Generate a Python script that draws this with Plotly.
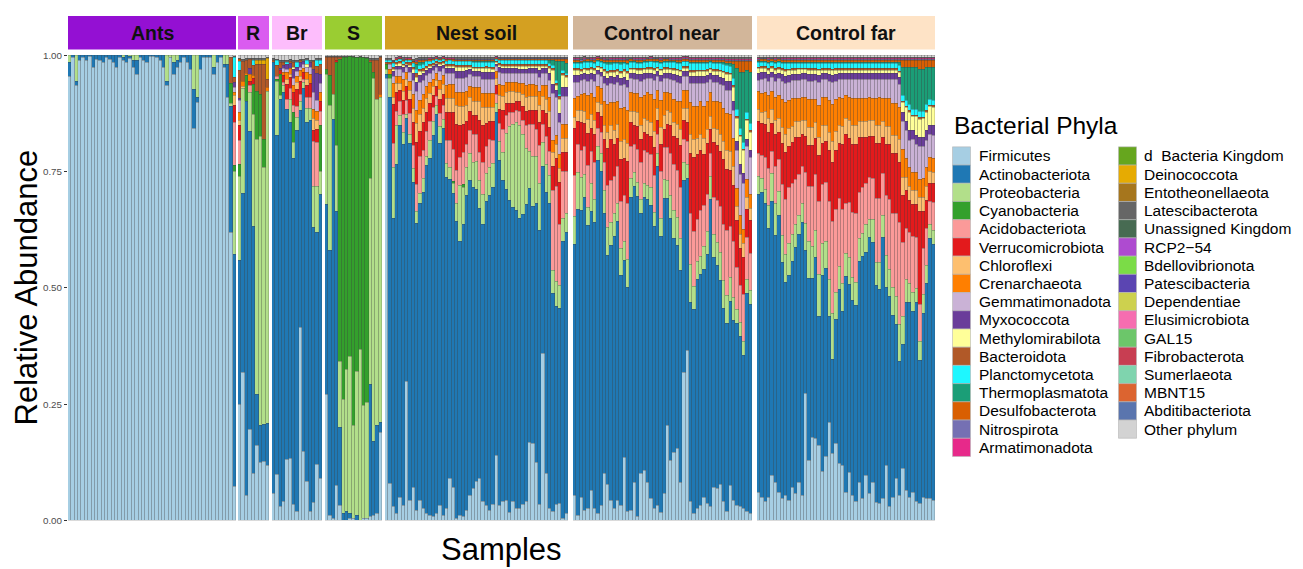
import plotly.graph_objects as go

W, H = 1303, 569

# ---- phyla (legend / stacking order, bottom to top) and their fill colours ----
PHYLA = [
    "Firmicutes", "Actinobacteriota", "Proteobacteria", "Cyanobacteria",
    "Acidobacteriota", "Verrucomicrobiota", "Chloroflexi", "Crenarchaeota",
    "Gemmatimonadota", "Myxococcota", "Methylomirabilota", "Bacteroidota",
    "Planctomycetota", "Thermoplasmatota", "Desulfobacterota", "Nitrospirota",
    "Armatimonadota",
    "d\u00a0\u00a0Bacteria Kingdom", "Deinococcota", "Entotheonellaeota",
    "Latescibacterota", "Unassigned Kingdom", "RCP2\u221254", "Bdellovibrionota",
    "Patescibacteria", "Dependentiae", "Elusimicrobiota", "GAL15",
    "Fibrobacterota", "Sumerlaeota", "MBNT15", "Abditibacteriota", "Other phylum",
]
COLORS = [
    "#A6CEE3", "#1F78B4", "#B2DF8A", "#33A02C", "#FB9A99", "#E31A1C",
    "#FDBF6F", "#FF7F00", "#CAB2D6", "#6A3D9A", "#FFFF99", "#B15928",
    "#1EF7FF", "#1B9E77", "#D95F02", "#7570B3", "#E7298A",
    "#66A61E", "#E6AB02", "#A6761D", "#666666", "#476B52", "#AE4BD0",
    "#7BDC47", "#5B45B2", "#CDD14E", "#F66DB0", "#6CC66A", "#C83E52",
    "#7FD4AE", "#DC6430", "#5A75AE", "#D3D3D3",
]

# columns of the sample tables below (percent); missing trailing columns are 0
TABLE = ["Firmicutes", "Actinobacteriota", "Proteobacteria", "Cyanobacteria",
         "Acidobacteriota", "Verrucomicrobiota", "Chloroflexi", "Crenarchaeota",
         "Gemmatimonadota", "Myxococcota", "Methylomirabilota", "Bacteroidota",
         "Planctomycetota", "Thermoplasmatota", "Desulfobacterota", "Nitrospirota",
         "Armatimonadota", "Deinococcota", "Latescibacterota", "Other phylum"]

GROUPS = ["Ants", "R", "Br", "S", "Nest soil", "Control near", "Control far"]
GROUP_COLORS = ["#9410D3", "#DA5CF0", "#FDBDFC", "#9ACD32", "#D4A021", "#D2B69A", "#FEE3C6"]

ants = [
    [95, 3, 1.5], [99.2, .5], [93.2, 1, 5.5], [98.7, 1], [99.2, .5], [98.7, 1],
    [99.5, .2], [97.2, 2.5], [98.9, .8], [98.7, 1], [98.2, 1.5], [99.2, .5],
    [98.9, .8], [98.2, 1.5], [97.2, 2.5], [99.2, .5], [98.7, .5, .5], [98.2, 1.5],
    [99, .5, .2], [97.2, 1.5, 1], [95.7, 3, 1], [99.2, .5], [98.7, 1], [98.2, 1.5],
    [99.4, .3], [99.4, .3], [99.2, .5], [98.7, 1], [97.2, 2.5], [93.2, 1, 5.5],
    [99.2, 0, .5], [95.7, 2.5, 1.5], [97.2, 1.5, 1], [98.2, 1.5], [99.2, .5],
    [98.2, 1.5], [96.7, 3], [84.1, 8.2, 7.4], [89.7, 1, 9], [96.7, 3], [99.2, .5],
    [99.2, .5], [99.2, .5], [95.7, 1.5, 2.5], [98.2, 1.5], [99.2, .5], [97.2, .5, 2],
    [90.7, 7, 2],
    [62, 27, .7, 4.3, 0, 0, 0, 0, 0, 0, 0, 5.5, 0, 0, 0, 0, 0, 0, 0, .5],
    [7.2, 50, 17.8, 1.4, 9.2, 3.6, 2.1, .7, 1.1, 1.1, 0, 1.1, 4.3, 0, 0, 0, 0, 0, .1, .3],
]

r_group = [
    [25, 31, 18, 2.5, 5.3, 3.2, 1, 1.8, 2.5, .5, 0, 6, 1.8, 0, .5, 0, 0, 0, .3, .6],
    [31.7, 38.7, 22.4, 0, 0, 0, .5, 1, 0, 0, 0, 4.5, 0, 0, 0, 0, 0, 0, .4, .8],
    [5.4, 84.6, 0, 5.7, 0, 0, 0, .5, 0, 0, 0, 2.8, 0, 0, 0, 0, 0, 0, .3, .7],
    [19.6, 64, 8.5, 0, 1.4, 1, 0, 1.4, 0, 1.4, 0, 1.8, 0, 0, 0, 0, 0, 0, .3, .6],
    [10, 53, 24, 6.4, 0, 1.4, 0, .7, 0, 0, 0, 2.1, 1.1, 0, 0, 0, 0, 0, .3, .7],
    [16, 11, 55, 10.3, 0, 0, 0, 0, 0, 0, 0, 5.7, 0, 0, 0, 0, 0, 1, .3, .7],
    [12.5, 8, 62, 9, 0, 0, 0, 0, 0, 0, 0, 6.5, 0, 0, 0, 0, 0, 1, .3, .7],
    [12.5, 8, 55, 6, 0, 0, 0, 0, 0, 0, 0, 16, 0, 0, 0, 0, 0, 1, .3, .7],
    [11.8, 9.2, 72, 0, 0, 0, 0, .7, 0, 0, 0, 1.8, 0, 0, 0, 0, 0, 4.6, .2, .4],
]

br_group = [
    [5.8, 92.7, 0, 0, 0, 0, 0, 0, 0, 0, 0, .5, 0, 0, 0, 0, 0, 0, .3, .7],
    [9.9, 72.8, 11.7, .5, .5, 0, 0, 0, 0, 0, 0, 2.5, 1, 0, 0, 0, 0, 0, .3, .8],
    [3, 87.6, .8, 4.6, 0, .7, 0, 0, 0, .5, 0, 1.3, 0, 0, 0, 0, 0, 0, .5, 1],
    [4, 88, 1.5, 0, .7, 1.5, 0, .7, .7, .7, 0, .7, 0, 0, 0, 0, 0, 0, .5, 1],
    [13, 75.3, 0, 0, 2.2, 3.3, 1, 1.5, .7, 1, 0, 0, .5, 0, 0, 0, 0, 0, .5, 1],
    [13.4, 72.2, 5, 0, 2.2, 2.5, .7, 1.3, 0, 1, 0, .5, 0, 0, 0, 0, 0, 0, .4, .8],
    [3.4, 74.3, 3.6, 6.4, 1.4, 2.8, 0, 1.5, 1.5, 2, .5, 1, 0, 0, 0, 0, 0, 0, .5, 1],
    [1.8, 82, 2.8, 0, 2.5, 3.6, 1.4, 1.4, 1, 1, 0, 0, 1, 0, 0, 0, 0, 0, .5, 1],
    [41.5, 46.6, 2, 0, 1.5, 2.8, 1, 1.3, .7, 1, 0, .5, 0, 0, 0, 0, 0, 0, .3, .8],
    [14.8, 78, 1.4, 0, .7, 1.4, 0, 1, .7, .7, 0, 0, 0, 0, 0, 0, 0, 0, .4, .9],
    [8.3, 77.5, 3, 0, 2.5, 2.5, 1.4, 1.4, 1, 0, .7, 0, 1, 0, 0, 0, 0, 0, .3, .7],
    [1.8, 83.4, 2.5, 0, 2.5, 2.9, 0, 2, 1.5, 1, 0, 0, 0, 0, 0, 0, 0, 0, .5, 1],
    [3.9, 59, 8.9, 0, 9.6, 2.5, 2.5, 2, 3.6, 5, 0, 1.6, 0, 0, 0, 0, 0, 0, .4, 1],
    [12.1, 50.5, 10, 0, 9.6, 2.8, 1.8, 2, 2.5, 5.7, 0, 1.5, 1.5, 0, 0, 0, 0, 0, .3, .7],
    [9, 61, 5, 10, 3, 2, 0, 2, 2, 2, 0, 2, 1, 0, 0, 0, 0, 0, .3, .7],
]

s_group = [
    [27, 41, 28, 1, 0, 0, 0, 0, 0, 0, 0, 2.5, 0, 0, 0, 0, 0, 0, .2, .3],
    [1, 57, 31.3, 6.4, 0, 0, 0, 0, 0, 0, 0, 3.9, 0, 0, 0, 0, 0, 0, .1, .3],
    [.5, 85.8, 5.3, 0, 0, 0, 0, 0, 0, 0, 0, 8, 0, 0, 0, 0, 0, 0, .1, .3],
    [7.4, 59, 14.2, 17.8, 0, .5, 0, 0, 0, 0, 0, .7, 0, 0, 0, 0, 0, 0, .1, .3],
    [3.2, 16.7, 14.2, 65, 0, 0, 0, 0, 0, 0, 0, .5, 0, 0, 0, 0, 0, 0, .1, .3],
    [0, 1.5, 24.5, 73.6, 0, 0, 0, 0, 0, 0, 0, 0, 0, 0, 0, 0, 0, 0, .1, .3],
    [0, 1.8, 30.6, 67.2, 0, 0, 0, 0, 0, 0, 0, 0, 0, 0, 0, 0, 0, 0, .1, .3],
    [.3, 1.1, 33.8, 64.5, 0, 0, 0, 0, 0, 0, 0, 0, 0, 0, 0, 0, 0, 0, .1, .2],
    [.3, 0, 20, 79.3, 0, 0, 0, 0, 0, 0, 0, 0, 0, 0, 0, 0, 0, 0, .1, .3],
    [0, 1.1, 30.9, 67.5, 0, 0, 0, 0, 0, 0, 0, 0, 0, 0, 0, 0, 0, 0, .1, .4],
    [0, 0, 36.7, 62.9, 0, 0, 0, 0, 0, 0, 0, 0, 0, 0, 0, 0, 0, 0, .1, .3],
    [.4, 0, 24.2, 74.9, 0, 0, 0, 0, 0, 0, 0, 0, 0, 0, 0, 0, 0, 0, .1, .4],
    [.4, 0, 25, 74, 0, 0, 0, 0, 0, 0, 0, 0, 0, 0, 0, 0, 0, 0, .2, .4],
    [.8, 28.4, 44.4, 24.9, 0, 0, 0, 0, 0, 0, 0, .5, 0, 0, 0, 0, 0, 0, .3, .7],
    [1.1, 15.3, 75.7, 1.4, 0, 0, 0, 0, 0, 0, 0, 2.5, 0, 0, 0, 0, 0, 0, .3, .7],
    [1.5, 19, 70, 0, 0, 0, 0, 0, 0, 0, 0, 8.5, 0, 0, 0, 0, 0, 0, .3, .7],
    [19, 2, 70, 0, 0, 0, 0, .5, 0, 0, 0, 8, 0, 0, 0, 0, 0, 0, .2, .3],
]

nest_soil = [
    [95, 1, 1, 1, 0, 0, 0, 0, 0, 0, 0, .5, .5, 0, 0, 0, 0, 0, .3, .7],
    [8, 83, 4, 1, 0, 0, 0, 1, 1, 0, 0, .5, .5, 0, 0, 0, 0, 0, .3, .7],
    [3, 62, 11, 0, 5, 8.5, 1.5, 3, 1.5, 1, .5, .5, .7, 0, .3, .1, .1, 0, .3, 1],
    [1.5, 75, 8.5, 0, 3, 4, 2, 1.5, 1.5, .7, .3, .5, .5, 0, .2, 0, .1, 0, .2, .5],
    [5, 80, 2, 0, 3, 2.5, 1.5, 1.5, 1.5, .7, .5, .4, .5, 0, .2, .1, .1, 0, .2, .3],
    [3.3, 78, 2.5, 0, 4, 3, 2, 2.5, 1.5, 1, .5, .3, .6, 0, .3, .1, .1, 0, .3, .5],
    [30, 57, 1, 0, 3, 3, 1.5, 1.5, 1, .5, .3, .3, .5, 0, .2, .1, .1, 0, .2, .5],
    [4.3, 77, 2, 0, 4.5, 3, 2, 2, 2, 1, .5, .5, .6, 0, .2, 0, .1, 0, .2, .5],
    [7, 66, 3, 0, 5, 5, 3, 3, 3, 1.5, 1, .5, .8, 0, .3, .1, .1, 0, .3, .9],
    [2.2, 62, 2.5, 0, 6, 9, 4, 3, 4, 2, 1, .8, 1, 1, .5, .2, .2, 0, .4, .7],
    [4.3, 64, 2, 0, 8, 5.5, 3.5, 3, 4, 1.5, .8, .5, .9, .5, .5, .2, .1, 0, .3, .5],
    [2.6, 68, 3, 0, 6, 6, 3, 3, 3, 1.5, .5, .5, .9, .5, .4, .2, .1, 0, .3, .5],
    [1.5, 75, 2, 0, 5.5, 4, 3, 2.5, 2.5, 1, .5, .5, .9, 0, .3, .2, .1, 0, .3, .5],
    [1.1, 77, 4, 0, 4, 4, 2, 2.5, 2, 1, .5, .4, .7, 0, .3, .1, .1, 0, .2, .5],
    [.8, 83, 3, 0, 3, 2.5, 2, 1.5, 2, .8, .4, .4, .7, 0, .2, .1, .1, 0, .2, .4],
    [1.5, 86, 2, 0, 2, 2, 1.5, 1.5, 1.2, .6, .3, .3, .6, 0, .2, 0, .1, 0, .2, .3],
    [3.3, 78, 3.5, 0, 3, 3, 2, 2, 2, 1, .5, .3, .6, 0, .2, .1, .1, 0, .2, .4],
    [1.1, 84, 2, 0, 3, 2.5, 2, 2, 1.5, .8, .4, .3, .6, 0, .2, 0, .1, 0, .2, .3],
    [2.6, 71.5, 3, 0, 5, 6, 3, 3, 2.5, 1, .5, .4, .8, 0, .3, .1, .1, 0, .3, .4],
    [9.2, 65, 2.5, 0, 6, 6, 3, 3, 2.5, 1, .5, .4, .8, 0, .3, .1, .1, 0, .3, .4],
    [7.1, 64, 2, .5, 7, 8, 3, 3, 2.5, 1, .5, .4, .8, 0, .3, .1, .1, 0, .3, .4],
    [.4, 64, 4, 0, 7, 10, 4, 3, 3, 1.5, .8, .5, .8, 0, .3, .1, .1, 0, .3, .5],
    [1.1, 58.5, 12, 0, 6, 7, 4, 3, 3, 1.5, .8, .5, .8, 0, .3, .1, .1, 0, .3, .5],
    [.8, 63, 8, .5, 7, 6, 4, 3, 3, 1.5, .8, .5, .8, 0, .3, .1, .1, 0, .3, .5],
    [2.2, 68, 6, 0, 5, 5, 3.5, 3, 3, 1.5, .8, .4, .8, 0, .3, .1, .1, 0, .3, .5],
    [5.3, 68, 6, 0, 5, 4, 3, 2.5, 2.5, 1, .6, .4, .8, 0, .3, .1, .1, 0, .3, .5],
    [6.8, 65, 5.5, 0, 6, 4, 3, 3, 2.5, 1, .6, .4, .9, .3, .3, .1, .1, 0, .3, .5],
    [8.5, 63, 6, 0, 6, 4, 3, 3, 2.5, 1, .6, .4, .9, .3, .3, .1, .1, 0, .3, .5],
    [9, 58.5, 6, 0, 6, 7, 4, 3, 2.5, 1, .6, .4, .9, .3, .3, .1, .1, 0, .3, .5],
    [4, 60, 6.5, 0, 7, 8, 4, 3, 3, 1.5, .8, .4, .9, .3, .3, .1, .1, 0, .3, .5],
    [3.3, 66, 6, 0, 6, 5, 3.5, 3, 3, 1.5, .8, .4, .9, .3, .3, .1, .1, 0, .3, .5],
    [2.2, 68, 6, 0, 6, 4, 3, 3, 3, 1.5, .8, .4, .9, .3, .3, .1, .1, 0, .3, .5],
    [3.3, 68, 5, 0, 5, 4, 3, 3, 3, 1.5, .8, .4, .9, .3, .3, .1, .1, 0, .3, .5],
    [14, 74, 2, 0, 2, 2, 1.5, 1.5, 1, .5, .3, .3, .5, 0, .2, 0, .1, 0, .2, .3],
    [3.3, 74.5, 4, 0, 4, 3, 3, 2.5, 2.5, 1, .5, .4, .7, 0, .3, .1, .1, 0, .2, .4],
    [4, 69, 6, 0, 5, 4, 3, 2.5, 2.5, 1, .6, .4, .8, 0, .3, .1, .1, 0, .2, .4],
    [4.3, 67, 12, 0, 4, 2.5, 2.5, 2, 2, 1, .6, .4, .8, 0, .3, .1, .1, 0, .2, .4],
    [1.8, 67.5, 16, 0, 3, 2, 2.5, 2, 2, 1, .6, .4, .8, 0, .3, .1, .1, 0, .2, .4],
    [4, 64, 18, 0, 2.5, 2, 2.5, 2, 2, 1, .6, .4, .8, 0, .3, .1, .1, 0, .2, .4],
    [2.6, 64, 19, 0, 2.5, 2, 2, 2, 2, 1, .6, .4, .8, 0, .3, .1, .1, 0, .2, .4],
    [2.6, 62, 20, 0, 3, 2, 2, 2, 2, 1, .6, .4, .8, 0, .3, .1, .1, 0, .2, .4],
    [3.3, 62, 17, 0, 3, 3, 2.5, 2.5, 2, 1, .6, .4, .8, 0, .3, .1, .1, 0, .2, .4],
    [4, 63.5, 12, 0, 5, 3, 3, 2.5, 2.5, 1, .6, .4, .8, 0, .3, .1, .1, 0, .2, .4],
    [17, 55, 8, 0, 6, 3, 3, 2.5, 2.5, 1, .6, .4, .8, 0, .3, .1, .1, 0, .2, .4],
    [16.6, 51.5, 11, 0, 7, 3, 3, 2.5, 2.5, 1, .6, .4, .8, 0, .3, .1, .1, 0, .2, .4],
    [12.4, 56, 10, 0, 6, 4, 3, 2.5, 2.5, 1, .6, .4, .8, 0, .3, .1, .1, 0, .2, .4],
    [3.3, 58, 10, 0, 8, 5, 3.5, 3, 3, 1.5, .8, .4, .8, 0, .3, .1, .1, 0, .2, .4],
    [36, 40.5, 5, 0, 4, 3, 3, 2.5, 2.5, 1, .6, .4, .8, 0, .3, .1, .1, 0, .2, .4],
    [10, 60.5, 6, 0, 6, 5, 3, 3, 2.5, 1, .6, .4, .8, 0, .3, .1, .1, 0, .2, .4],
    [2.6, 64.5, 6, 0, 5, 5, 3.5, 3, 3.5, 1.5, 1, .4, .8, .5, .3, .1, .1, 0, .2, .4],
    [1.8, 46.5, 5, 0, 17, 5, 3, 2.5, 10, 2, 3, .5, .6, 1, .3, .1, .1, 0, .2, .4],
    [3.3, 42, 5.5, 0, 20, 6, 3, 2, 8, 1.5, 1, .5, .6, 4, .5, .1, .1, 0, .2, .4],
    [3.6, 42, 5, 0, 13, 9, 3, 3, 7, 2, 3, .5, .6, 7, .5, .1, .1, 0, .2, .4],
    [.4, 59, 5, 0, 10, 4, 3, 3, 6, 2, 2.5, .5, .5, 2, .5, .1, .1, 0, .2, .4],
    [1.5, 60, 4, 0, 9, 4, 3, 3, 6, 2, 2, .5, .5, 2, 1, .1, .1, 0, .2, .4],
]

control_near = [
    [5.4, 54.0, 6, 0, 9, 10, 2.5, 4, 3.5, 1.5, 1, .5, 1, .3, .5, .2, .1, 0, .3, .4],
    [1.1, 66.1, 8, 0, 6, 5, 2.5, 3, 3, 1.5, 1, .4, 1.2, .2, .5, .2, .2, 0, .2, .4],
    [5.0, 61.8, 7, 0, 6, 6, 2.5, 3.5, 3, 1.2, .8, .4, 1.2, .2, .4, .3, .1, 0, .3, .5],
    [2.2, 67.2, 5, 0, 6, 5, 2.5, 4, 3, 1.2, .8, .3, 1.2, .2, .4, .2, .2, 0, .3, .3],
    [2.6, 60.8, 4, 0, 9, 7, 3, 5, 3, 1.5, 1, .4, 1.3, .2, .4, .2, .1, 0, .2, .4],
    [6.4, 60.4, 6, 0, 7, 5, 3, 4.5, 3, 1.3, .8, .4, 1.1, .2, .4, .1, .2, 0, .3, .4],
    [2.6, 61.8, 5, 0, 8, 6, 3, 5, 3.5, 1.5, .8, .4, 1.2, .2, .5, .2, .1, 0, .3, .4],
    [1.5, 76.0, 3, 0, 4, 3.5, 2, 3.5, 2.5, 1, .6, .3, 1, .2, .4, .1, .1, 0, .2, .3],
    [3.3, 71.8, 4, 0, 4.5, 3.5, 2.5, 3.5, 2.5, 1, .7, .3, 1.1, .2, .4, .2, .1, 0, .2, .4],
    [10.0, 56.1, 5, 0, 6, 5, 3, 5, 4, 1.5, 1, .4, 1.3, .2, .5, .2, .2, 0, .3, .4],
    [7.8, 49.0, 6, 0, 9, 8, 3.5, 6, 4, 1.5, 1.2, .4, 1.5, .3, .5, .2, .1, 0, .3, .5],
    [4.3, 55.1, 5, 0, 9, 9, 3, 5, 4, 1.5, 1, .4, 1.3, .3, .5, .2, .2, 0, .3, .4],
    [2.6, 58.6, 5, 0, 8, 7, 3, 6, 4, 1.5, 1, .4, 1.5, .3, .5, .2, .1, 0, .3, .4],
    [4.3, 60.1, 4, 0, 8, 6, 3, 5, 4, 1.5, 1, .4, 1.3, .2, .5, .2, .1, 0, .3, .4],
    [3.3, 49.4, 6, 0, 10, 9, 4, 7, 5, 1.5, 1.2, .4, 1.5, .3, .5, .2, .2, 0, .3, .4],
    [13.5, 42.6, 4, 0, 10, 8, 4, 7, 5, 1.5, 1.2, .4, 1.3, .3, .5, .2, .1, 0, .3, .4],
    [1.8, 48.3, 6, 0, 12, 9, 4, 7, 5, 1.5, 1.5, .4, 1.5, .3, .6, .2, .1, 0, .3, .5],
    [2.2, 67.2, 4, 0, 7, 5, 2.5, 4, 3, 1.2, .8, .3, 1.2, .2, .4, .2, .1, 0, .2, .4],
    [8.2, 63.6, 3, 0, 6, 4, 3, 4, 3, 1.2, .8, .3, 1.2, .2, .4, .2, .1, 0, .3, .4],
    [.8, 68.9, 3, 0, 7, 5, 3, 4, 3, 1.2, .8, .3, 1.2, .2, .4, .2, .2, 0, .3, .4],
    [10.0, 56.1, 3, 0, 8, 5, 3, 6, 3.5, 1.3, 1, .3, 1.2, .2, .5, .2, .1, 0, .3, .4],
    [10.7, 59.0, 3, 0, 7, 4, 3, 5, 3.5, 1.2, .8, .3, 1.2, .2, .4, .2, .1, 0, .3, .4],
    [8.2, 61.1, 3, 0, 7, 4, 3, 6, 3, 1.2, .8, .3, 1.2, .2, .4, .2, .1, 0, .2, .4],
    [4.7, 63.3, 4, 0, 7, 4, 3, 6, 3.5, 1.2, .8, .3, 1.3, .2, .4, .2, .1, 0, .2, .3],
    [2.6, 61.1, 3, 0, 8, 6, 3.5, 7, 4, 1.3, 1, .3, 1.3, .2, .5, .2, .1, 0, .2, .4],
    [3.3, 72.8, 3, 0, 4, 3, 2.5, 4, 3, 1, .7, .3, 1, .2, .4, .2, .1, 0, .2, .4],
    [1.8, 59.3, 4, 0, 10, 6, 3.5, 6, 4, 1.3, 1, .3, 1.3, .2, .5, .2, .1, 0, .3, .4],
    [5.8, 64.0, 4, 0, 7, 4, 3, 5, 3, 1.2, .8, .3, 1.2, .2, .4, .2, .1, 0, .2, .4],
    [20.5, 49.0, 4, 0, 7, 5, 3, 4, 3, 1.2, .8, .3, 1.2, .2, .4, .2, .1, 0, .2, .4],
    [12.8, 52.2, 5, 0, 9, 6, 3, 4, 3, 1.3, .8, .3, 1.2, .2, .4, .2, .1, 0, .3, .4],
    [14.6, 46.2, 6, 0, 10, 6, 3, 5, 4, 1.5, .8, .3, 1.3, .2, .4, .2, .1, 0, .3, .4],
    [15.4, 43.7, 6, 0, 10, 7, 3, 5, 4, 1.5, 1, .3, 1.3, .2, .5, .2, .1, 0, .3, .4],
    [8.2, 45.8, 7, 0, 11, 9, 3.5, 6, 4, 1.5, 1, .3, 1.4, .3, .5, .2, .1, 0, .3, .4],
    [31.8, 41.2, 4, 0, 5, 4, 2.5, 4, 3, 1, .8, .3, 1, .2, .4, .2, .1, 0, .2, .3],
    [36.4, 37.0, 3, 0, 5, 4, 3, 4, 3, 1, .8, .3, 1, .2, .4, .2, .1, 0, .2, .3],
    [4.0, 43.0, 8, 0, 11, 13, 4, 7, 4, 1.5, 1, .3, 1.5, .3, .5, .2, .1, 0, .3, .4],
    [1.5, 44.1, 5, 0, 12, 16, 4, 7, 5, 1.5, 1, .3, 1.5, .3, .5, .2, .1, 0, .3, .4],
    [2.6, 49.4, 4, 0, 9, 14, 3.5, 7, 5, 1.5, 1, .3, 1.4, .3, .5, .2, .1, 0, .3, .4],
    [3.3, 49.8, 4, 0, 10, 13, 3.5, 7, 4, 1.5, 1, .3, 1.4, .3, .5, .2, .1, 0, .3, .4],
    [5.0, 49.4, 5, 0, 9, 11, 3.5, 7, 5, 1.5, 1, .3, 1.4, .3, .5, .2, .1, 0, .3, .4],
    [3.6, 53.7, 5, 0, 8, 11, 3, 6, 4, 1.5, 1, .3, 1.3, .3, .5, .2, .1, 0, .3, .4],
    [2.9, 66.5, 5, 0, 5, 5, 3, 5, 3, 1.2, .8, .3, 1.2, .2, .4, .2, .1, 0, .3, .4],
    [7.1, 50.1, 5, 0, 8, 12, 3, 6, 4, 1.5, 1, .3, 1.3, .3, .5, .2, .1, 0, .3, .4],
    [6.8, 48.3, 5, 0, 9, 12, 3.5, 6, 4, 1.5, 1, .3, 1.3, .3, .5, .2, .1, 0, .3, .4],
    [7.8, 44.1, 6, 0, 10, 12, 3.5, 7, 4, 1.5, 1.2, .3, 1.4, .3, .5, .2, .1, 0, .3, .4],
    [4.0, 41.6, 6, 0, 12, 14, 4, 7, 5, 1.5, 1.2, .3, 1.5, .3, .6, .2, .1, 0, .3, .4],
    [1.8, 40.5, 6, 0, 14, 13, 4, 8, 5, 2, 1.5, .3, 1.5, .4, .6, .2, .2, 0, .3, .5],
    [7.5, 39.4, 5, 0, 11, 12, 4, 8, 5, 2, 1.5, .3, 1.5, .5, .6, .2, .2, 0, .3, .5],
    [4.3, 38.4, 5, 0, 12, 12, 4, 6, 6, 2, 3, .3, 1.5, 3, .8, .2, .2, 0, .3, .5],
    [3.3, 39.1, 3, 0, 9, 10, 3, 4, 8, 2, 5, .3, 1.5, 9, 1.5, .2, .2, 0, .3, .5],
    [2.9, 36.6, 3, 0, 8, 8, 3, 4, 9, 2, 6, .3, 1.5, 12, 2.5, .2, .2, 0, .3, .5],
    [2.6, 33.0, 3, 0, 10, 8, 3, 3, 10, 2, 5, .3, 1.5, 15, 2.5, .2, .2, 0, .3, .5],
    [1.8, 46.9, 3, 0, 9, 6, 2.5, 4, 7, 1.5, 4, .3, 1.5, 9, 2, .2, .2, 0, .3, .5],
    [1.5, 45.0, 3, 0, 8, 7, 2.5, 3, 8, 1.5, 4, .3, 1.5, 11, 2.5, .2, .2, 0, .3, .5],
]

control_far = [
    [6.1, 65.0, 4, 0, 5, 7, 2.5, 4, 2.5, 1.5, 1, .3, 1, .2, .4, .2, .1, 0, .3, .4],
    [5.0, 66.1, 3, 0, 5, 7, 2.5, 4, 3, 1.5, 1, .3, 1, .2, .4, .2, .1, 0, .2, .4],
    [4.0, 65.0, 3, 0, 7, 7, 3, 4, 3, 1.5, .8, .3, 1, .2, .4, .2, .1, 0, .2, .4],
    [5.0, 58.6, 5, 0, 8, 8, 3, 5, 3, 1.5, 1, .3, 1.2, .2, .5, .2, .1, 0, .3, .4],
    [9.7, 59.7, 6, 0, 5, 6, 3, 4, 3, 1.2, .8, .3, 1, .2, .4, .2, .1, 0, .2, .4],
    [8.2, 53.7, 7, 0, 8, 7, 3, 5, 3.5, 1.5, 1, .3, 1.2, .2, .5, .2, .1, 0, .3, .4],
    [6.1, 60.1, 5, 0, 7, 6, 3, 5, 3.5, 1.3, .8, .3, 1.1, .2, .5, .2, .1, 0, .2, .4],
    [4.7, 51.5, 6, 0, 11, 9, 3.5, 6, 4, 1.5, 1, .3, 1.2, .2, .5, .2, .1, 0, .3, .4],
    [5.4, 46.2, 6, 0, 12, 10, 4, 7, 4, 1.5, 1.2, .3, 1.3, .3, .5, .2, .1, 0, .3, .4],
    [4.3, 49.0, 7, 0, 12, 9, 4, 6, 4, 1.5, 1, .3, 1.2, .3, .5, .2, .1, 0, .3, .4],
    [7.1, 49.4, 6, 0, 11, 9, 3.5, 6, 4, 1.3, 1, .3, 1.2, .2, .5, .2, .1, 0, .3, .4],
    [5.8, 53.7, 5, 0, 10, 9, 3.5, 5, 4, 1.3, 1, .3, 1.2, .2, .5, .2, .1, 0, .3, .4],
    [8.2, 54.0, 4, 0, 9, 8, 3.5, 5, 4, 1.3, 1, .3, 1.1, .2, .5, .2, .1, 0, .3, .4],
    [5.4, 59.3, 4, 0, 8, 7, 3, 5, 4, 1.3, .8, .3, 1.1, .2, .5, .2, .1, 0, .3, .4],
    [27.7, 31.3, 6, 0, 11, 8, 3.5, 5, 4, 1.3, .8, .3, 1.1, .2, .5, .2, .1, 0, .3, .4],
    [13.2, 39.8, 8, 0, 12, 9, 4, 6, 4, 1.5, 1, .3, 1.2, .2, .5, .2, .1, 0, .3, .4],
    [18.2, 34.8, 7, 0, 13, 9, 4, 6, 4, 1.5, 1, .3, 1.2, .2, .5, .2, .1, 0, .3, .4],
    [17.8, 39.4, 6, 0, 12, 8, 3.5, 5, 4, 1.3, 1, .3, 1.2, .2, .5, .2, .1, 0, .3, .4],
    [16.4, 28.1, 9, 0, 16, 10, 4, 7, 5, 1.5, 1, .3, 1.3, .2, .5, .2, .1, 0, .3, .4],
    [10.7, 43.0, 7, 0, 13, 9, 4, 6, 4, 1.3, .8, .3, 1.2, .2, .5, .2, .1, 0, .3, .4],
    [13.9, 41.2, 6, 0, 13, 9, 3.5, 6, 4, 1.3, .8, .3, 1.2, .2, .5, .2, .1, 0, .3, .4],
    [21.3, 23.1, 8, 0, 17, 11, 4, 7, 4, 1.5, 1, .3, 1.2, .2, .5, .2, .1, 0, .3, .4],
    [14.6, 20.6, 10, 0, 20, 13, 4.5, 8, 5, 1.5, 1, .3, 1.3, .2, .5, .2, .1, 0, .3, .4],
    [16.8, 27.0, 6, 0, 18, 13, 4, 7, 4, 1.5, 1, .3, 1.2, .2, .5, .2, .1, 0, .3, .4],
    [12.5, 38.0, 5, 0, 15, 12, 4, 6, 4, 1.3, .8, .3, 1.2, .2, .5, .2, .1, 0, .3, .4],
    [11.8, 33.4, 6, 0, 16, 14, 4, 6, 4, 1.3, .8, .3, 1.2, .2, .5, .2, .1, 0, .3, .4],
    [6.1, 47.3, 5, 0, 11, 15, 3.5, 5, 3.5, 1.3, .8, .3, 1.2, .2, .5, .2, .1, 0, .3, .4],
    [10.4, 41.2, 6, 0, 12, 14, 4, 5, 4, 1.3, .8, .3, 1.2, .2, .5, .2, .1, 0, .3, .4],
    [5.4, 42.6, 5, 0, 14, 15, 4, 6, 4, 1.3, .8, .3, 1.2, .2, .5, .2, .1, 0, .3, .4],
    [4.0, 42.6, 5, 0, 15, 15, 4, 6, 4, 1.3, .8, .3, 1.2, .2, .5, .2, .1, 0, .3, .4],
    [8.2, 48.3, 5, 0, 10, 12, 3.5, 5, 4, 1.3, .8, .3, 1.2, .2, .5, .2, .1, 0, .3, .4],
    [4.7, 52.6, 5, 0, 10, 11, 3.5, 5, 4, 1.3, .8, .3, 1.2, .2, .5, .2, .1, 0, .3, .4],
    [9.7, 48.7, 6, 0, 9, 10, 3.5, 5, 4, 1.3, .8, .3, 1.2, .2, .5, .2, .1, 0, .3, .4],
    [5.8, 56.1, 4, 0, 9, 9, 3.5, 5, 4, 1.3, .8, .3, 1.2, .2, .5, .2, .1, 0, .3, .4],
    [8.2, 52.6, 5, 0, 9, 9, 3.5, 5, 4, 1.3, .8, .3, 1.2, .2, .5, .2, .1, 0, .3, .4],
    [4.0, 47.3, 5, 0, 14, 12, 4, 6, 4, 1.3, .8, .3, 1.2, .2, .5, .2, .1, 0, .3, .4],
    [3.6, 46.9, 6, 0, 14, 12, 4, 6, 4, 1.3, .8, .3, 1.2, .2, .5, .2, .1, 0, .3, .4],
    [4.7, 56.9, 5, 0, 9, 8, 3.5, 5, 4, 1.3, .8, .3, 1.2, .2, .5, .2, .1, 0, .3, .4],
    [11.8, 38.7, 7, 0, 13, 11, 4, 6, 4, 1.3, .8, .3, 1.2, .2, .5, .2, .1, 0, .3, .4],
    [2.9, 45.5, 6, 0, 15, 12, 4, 6, 4, 1.3, .8, .3, 1.2, .2, .5, .2, .1, 0, .3, .4],
    [5.0, 39.4, 6, 0, 16, 13, 4, 7, 5, 1.3, .8, .3, 1.2, .2, .5, .2, .1, 0, .3, .4],
    [9.0, 33.4, 6, 0, 18, 13, 4, 7, 5, 1.3, .8, .3, 1.2, .2, .5, .2, .1, 0, .3, .4],
    [5.4, 29.1, 8, 0, 22, 13, 5, 7, 5, 1.5, 1, .3, 1.3, .5, .6, .2, .1, 0, .3, .4],
    [11.2, 26.7, 6, 0, 16, 10, 4, 6, 6, 2, 2, .3, 1.3, 6, 1.5, .2, .2, 0, .3, .4],
    [6.5, 40.5, 5, 0, 11, 8, 3, 4, 6, 2, 3, .3, 1.3, 7, 1.5, .2, .2, 0, .3, .4],
    [5.0, 41.9, 4, 0, 11, 7, 3, 4, 6, 2, 4, .3, 1.3, 8, 1.5, .2, .2, 0, .3, .4],
    [6.1, 39.1, 4, 0, 12, 7, 3, 4, 7, 2, 3, .3, 1.3, 9, 1.5, .2, .2, 0, .3, .4],
    [4.0, 43.0, 3, 0, 11, 7, 3, 4, 6, 2, 4, .3, 1.3, 9, 1.5, .2, .2, 0, .3, .4],
    [3.6, 30.9, 4, 0, 8, 20, 3, 4, 7, 2, 4, .3, 1.3, 9, 2, .2, .2, 0, .3, .4],
    [5.0, 39.8, 4, 0, 10, 8, 3, 4, 7, 2, 4, .3, 1.3, 9, 2, .2, .2, 0, .3, .4],
    [4.7, 46.2, 4, 0, 8, 6, 3, 4, 6, 2, 4, .3, 1.3, 8, 1.5, .2, .2, 0, .3, .4],
    [4.7, 56.1, 3, 0, 5, 4, 2.5, 3, 5, 2, 4, .3, 1.2, 7, 1.5, .2, .2, 0, .3, .4],
    [4.3, 55.0, 3, 0, 6, 4, 2.5, 3, 5, 2, 4, .3, 1.2, 7, 1.5, .2, .2, 0, .3, .4],
]

PANELS = [ants, r_group, br_group, s_group, nest_soil, control_near, control_far]

# ---- layout geometry (pixels) ----
PANEL_PX = [(68, 236), (238, 269), (272, 322), (325, 382), (385, 568), (573, 752), (757, 935)]
PLOT_TOP, PLOT_BOTTOM = 50, 525          # panel area
STRIP_TOP, STRIP_BOTTOM = 13, 47
FONT = "Liberation Sans, Arial, Helvetica, sans-serif"


def px_x(x):
    return x / W


def px_y(y):
    return 1 - y / H


fig = go.Figure()
layout_axes = {}
for k, (rows, (p0, p1)) in enumerate(zip(PANELS, PANEL_PX)):
    xa = "x" if k == 0 else f"x{k + 1}"
    n = len(rows)
    full = [list(r) + [0] * (len(TABLE) - len(r)) for r in rows]
    totals = [sum(r) for r in full]
    for name, color in zip(PHYLA, COLORS):
        if name not in TABLE:
            continue
        j = TABLE.index(name)
        vals = [r[j] / t if r[j] > 0 else None for r, t in zip(full, totals)]
        if all(v is None for v in vals):
            continue
        fig.add_trace(go.Bar(
            x=list(range(n)), y=vals, name=name, xaxis=xa, yaxis="y",
            marker=dict(color=color, line=dict(width=0.35, color="rgba(60,60,60,0.55)")),
            showlegend=False, hovertemplate=name + ": %{y:.3f}<extra></extra>",
        ))
    key = "xaxis" if k == 0 else f"xaxis{k + 1}"
    layout_axes[key] = dict(
        domain=[px_x(p0), px_x(p1)], range=[-0.5, n - 0.5], anchor="y",
        showticklabels=False, showgrid=False, zeroline=False, showline=False,
        ticks="", fixedrange=True,
    )

pad = 3 / (PLOT_BOTTOM - PLOT_TOP - 6)
layout_axes["yaxis"] = dict(
    domain=[px_y(PLOT_BOTTOM), px_y(PLOT_TOP)], range=[-pad, 1 + pad], anchor="x",
    tickvals=[0, 0.25, 0.5, 0.75, 1.0], ticktext=["0.00", "0.25", "0.50", "0.75", "1.00"],
    ticks="outside", ticklen=3, tickwidth=1, tickcolor="#333333",
    tickfont=dict(family=FONT, size=9.8, color="#4D4D4D"),
    showgrid=False, zeroline=False, showline=False, fixedrange=True,
)

shapes, annotations = [], []

# facet strips
for label, color, (p0, p1) in zip(GROUPS, GROUP_COLORS, PANEL_PX):
    shapes.append(dict(type="rect", xref="paper", yref="paper",
                       x0=px_x(p0), x1=px_x(p1), y0=px_y(STRIP_BOTTOM), y1=px_y(STRIP_TOP),
                       fillcolor=color, line=dict(width=0), layer="below"))
    annotations.append(dict(text=f"<b>{label}</b>", xref="paper", yref="paper",
                            x=px_x((p0 + p1) / 2), y=px_y((STRIP_TOP + STRIP_BOTTOM) / 2),
                            xanchor="center", yanchor="middle", showarrow=False,
                            font=dict(family=FONT, size=19.5, color="#111111")))

# axis titles
annotations.append(dict(text="Relative Abundance", xref="paper", yref="paper",
                        x=px_x(26), y=px_y(287), textangle=-90, showarrow=False,
                        xanchor="center", yanchor="middle",
                        font=dict(family=FONT, size=31, color="black")))
annotations.append(dict(text="Samples", xref="paper", yref="paper",
                        x=px_x(501.5), y=px_y(551), showarrow=False,
                        xanchor="center", yanchor="middle",
                        font=dict(family=FONT, size=31, color="black")))

# legend (two columns)
annotations.append(dict(text="Bacterial Phyla", xref="paper", yref="paper",
                        x=px_x(952), y=px_y(123.5), showarrow=False,
                        xanchor="left", yanchor="middle",
                        font=dict(family=FONT, size=24.5, color="black")))
KEY_X = [952.5, 1118.5]
TEXT_X = [977.0, 1142.0]
ROW0, ROW_STEP, KEY = 154.3, 18.375, 18.0
columns = [list(zip(PHYLA[:17], COLORS[:17])), list(zip(PHYLA[17:], COLORS[17:]))]
for c, items in enumerate(columns):
    for i, (name, color) in enumerate(items):
        cy = ROW0 + ROW_STEP * i
        shapes.append(dict(type="rect", xref="paper", yref="paper",
                           x0=px_x(KEY_X[c]), x1=px_x(KEY_X[c] + KEY),
                           y0=px_y(cy + ROW_STEP / 2), y1=px_y(cy - ROW_STEP / 2),
                           fillcolor=color, line=dict(width=0.6, color="#B5B5B5")))
        annotations.append(dict(text=name, xref="paper", yref="paper",
                                x=px_x(TEXT_X[c]), y=px_y(cy), showarrow=False,
                                xanchor="left", yanchor="middle",
                                font=dict(family=FONT, size=15.5, color="black")))

fig.update_layout(
    width=W, height=H, margin=dict(l=0, r=0, t=0, b=0),
    barmode="stack", bargap=0, bargroupgap=0,
    plot_bgcolor="white", paper_bgcolor="white",
    showlegend=False, shapes=shapes, annotations=annotations,
    **layout_axes,
)

fig.write_html("out.html")
